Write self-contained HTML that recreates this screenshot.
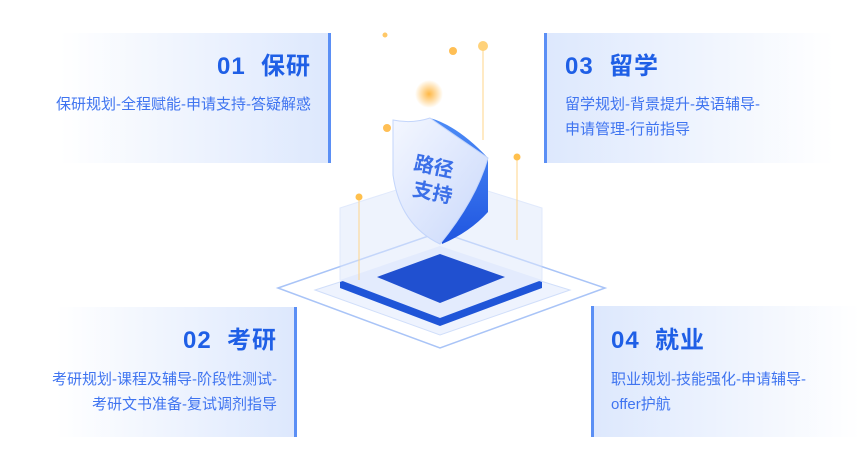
<!DOCTYPE html>
<html><head><meta charset="utf-8"><style>
body{margin:0;width:860px;height:466px;background:#fff;position:relative;overflow:hidden;font-family:"Liberation Sans","Noto Sans CJK SC",sans-serif}
.b{position:absolute;box-sizing:border-box}
.t{position:absolute;font-size:24px;font-weight:bold;color:#1f5fe6;white-space:nowrap;letter-spacing:1px}
.s{position:absolute;font-size:15px;color:#3f74f0;line-height:25px;white-space:nowrap}
</style></head><body>
<div class="b" style="left:30px;top:33px;width:301px;height:130px;background:linear-gradient(90deg,#fff 10%,#dde8fd);border-right:3px solid #5b8ff5"></div>
<div class="b" style="left:544px;top:33px;width:290px;height:130px;background:linear-gradient(90deg,#dde8fd,#fff);border-left:3px solid #5b8ff5"></div>
<div class="b" style="left:30px;top:307px;width:267px;height:130px;background:linear-gradient(90deg,#fff 10%,#dde8fd);border-right:3px solid #5b8ff5"></div>
<div class="b" style="left:591px;top:306px;width:269px;height:131px;background:linear-gradient(90deg,#dde8fd,#fff);border-left:3px solid #5b8ff5"></div>

<div class="t" style="right:549px;top:46px">01&nbsp;&nbsp;保研</div>
<div class="s" style="right:549px;top:92px">保研规划-全程赋能-申请支持-答疑解惑</div>
<div class="t" style="left:565px;top:46px">03&nbsp;&nbsp;留学</div>
<div class="s" style="left:565px;top:92px">留学规划-背景提升-英语辅导-<br>申请管理-行前指导</div>
<div class="t" style="right:583px;top:320px">02&nbsp;&nbsp;考研</div>
<div class="s" style="right:583px;top:367px;text-align:right">考研规划-课程及辅导-阶段性测试-<br>考研文书准备-复试调剂指导</div>
<div class="t" style="left:611px;top:320px">04&nbsp;&nbsp;就业</div>
<div class="s" style="left:611px;top:367px">职业规划-技能强化-申请辅导-<br>offer护航</div>

<svg width="860" height="466" style="position:absolute;left:0;top:0">
<defs>
<radialGradient id="g"><stop offset="0" stop-color="#ffb845"/><stop offset="1" stop-color="#ffb845" stop-opacity="0"/></radialGradient>
<linearGradient id="sh" x1="0" y1="0" x2="1" y2="1"><stop offset="0" stop-color="#f4f7ff"/><stop offset="1" stop-color="#c9d8fb"/></linearGradient>
<linearGradient id="sd" x1="0" y1="0" x2="0" y2="1"><stop offset="0" stop-color="#4d8cf7"/><stop offset="1" stop-color="#1f55e0"/></linearGradient>
</defs>
<path d="M278 288 L440 232 L605 288 L440 348 Z" fill="none" stroke="#a9c4f7" stroke-width="1.5"/>
<path d="M315 290 L440 250 L570 290 L440 335 Z" fill="#eef3fe" stroke="#d0defa"/>
<path d="M340 208 L440 176 L542 208 L542 280 L440 316 L340 280 Z" fill="#dfe8fd" opacity=".5" stroke="#c3d5fa"/>
<path d="M340 282 L440 248 L542 282 L542 288 L440 326 L340 288 Z" fill="#1f55d8"/>
<path d="M340 280 L440 246 L542 280 L440 318 Z" fill="#e3ebfd"/>
<path d="M377 277 L440 254 L505 277 L440 303 Z" fill="#2050d0"/>
<line x1="359" y1="198" x2="359" y2="280" stroke="#ffd58a"/>
<line x1="517" y1="158" x2="517" y2="240" stroke="#ffd58a"/>
<line x1="483" y1="46" x2="483" y2="140" stroke="#ffd58a"/>
<circle cx="359" cy="197" r="3.5" fill="#ffc04d"/>
<circle cx="517" cy="157" r="3.5" fill="#ffc04d"/>
<circle cx="483" cy="46" r="5" fill="#ffd27a"/>
<circle cx="453" cy="51" r="4" fill="#ffbf55"/>
<circle cx="385" cy="35" r="2.5" fill="#ffc867"/>
<circle cx="387" cy="128" r="4" fill="#ffbf55"/>
<circle cx="429" cy="94" r="14" fill="url(#g)"/>
<path d="M430 118 Q458 126 488 158 L488 212 Q470 232 442 244 Z" fill="url(#sd)"/>
<path d="M393 120 Q412 124 430 118 Q450 132 488 158 Q476 200 440 244 Q400 225 393 175 Z" fill="url(#sh)" stroke="#c3d5fb"/>
<text x="411" y="173" font-size="20" font-weight="bold" fill="#3b6fe8" transform="rotate(12 430 180)">路径</text>
<text x="411" y="199" font-size="20" font-weight="bold" fill="#3b6fe8" transform="rotate(12 430 200)">支持</text>
</svg>
</body></html>
